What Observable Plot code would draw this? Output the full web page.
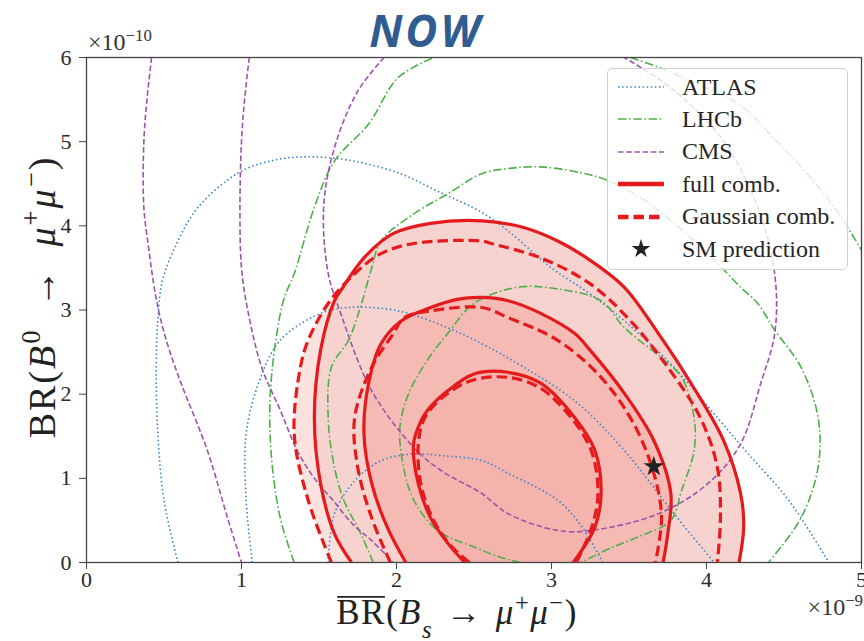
<!DOCTYPE html>
<html>
<head>
<meta charset="utf-8">
<script src="https://cdn.jsdelivr.net/npm/d3@7"></script>
<script src="https://cdn.jsdelivr.net/npm/@observablehq/plot@0.6"></script>
<style>
  body { margin: 0; background: #fff; }
  #chart { position: relative; width: 864px; height: 641px; overflow: hidden; }
  .legend {
    position: absolute; left: 607px; top: 68px; width: 241px; height: 202px;
    box-sizing: border-box; background: rgba(255,255,255,0.8);
    border: 1.3px solid #d2d2d2; border-radius: 5px;
    font-family: "Liberation Serif", serif; font-size: 24px; color: #262626;
  }
  .legend .row { position: absolute; left: 0; height: 32px; display: flex; align-items: center; }
  .legend .row svg { margin-left: 9px; width: 48px; height: 32px; flex: none; }
  .legend .row span { margin-left: 17px; white-space: nowrap; }
</style>
</head>
<body>
<div id="chart"></div>
<script>
// Axis ticks (x in units of 1e-9, y in units of 1e-10)
const xTicks = [0, 1, 2, 3, 4, 5];
const yTicks = [0, 1, 2, 3, 4, 5, 6];

// ATLAS likelihood contours [BR(Bs), BR(B0)]
const atlasOuter = [[0.59,0],[0.50,0.74],[0.46,1.54],[0.45,2.33],[0.46,2.87],[0.49,3.35],[0.59,3.82],[0.72,4.22],[0.98,4.63],[1.21,4.78],[1.43,4.82],[1.69,4.78],[2.01,4.63],[2.29,4.39],[2.55,4.16],[2.72,3.94],[3.00,3.50],[3.25,3.19],[3.49,2.84],[3.79,2.32],[4.07,1.72],[4.27,1.29],[4.53,0.74],[4.79,0]];
const atlasMiddle = [[1.07,0],[1.03,0.74],[1.03,1.53],[1.11,2.13],[1.25,2.64],[1.51,2.96],[1.69,3.03],[2.01,2.99],[2.33,2.79],[2.55,2.60],[2.72,2.43],[3.15,1.92],[3.47,1.33],[3.79,0.58],[4.05,0]];
const atlasInner = [[1.56,0],[1.60,0.58],[1.73,0.97],[1.90,1.21],[2.11,1.29],[2.29,1.27],[2.55,1.21],[2.72,1.06],[3.04,0.74],[3.19,0.44],[3.33,0]];

// LHCb likelihood contours
const lhcbOuterLeft = [[1.34,0],[1.25,0.53],[1.19,1.33],[1.19,2.13],[1.27,3.11],[1.34,3.43],[1.47,4.22],[1.60,4.77],[1.82,5.21],[2.01,5.76],[2.24,6.0]];
const lhcbOuterRight = [[3.51,6.0],[3.71,5.87],[3.96,5.67],[4.22,5.43],[4.45,5.01],[4.65,4.62],[4.84,4.18],[5.0,3.71]];
const lhcbMiddle = [[1.85,0],[1.77,0.34],[1.66,0.74],[1.60,1.13],[1.56,1.69],[1.58,2.32],[1.69,2.64],[1.77,3.05],[1.84,3.5],[1.90,3.82],[2.11,4.14],[2.33,4.38],[2.55,4.62],[2.72,4.68],[2.93,4.70],[3.19,4.63],[3.36,4.54],[3.58,4.33],[3.79,4.03],[4.01,3.67],[4.22,3.27],[4.33,3.08],[4.44,2.76],[4.61,2.32],[4.72,1.72],[4.72,1.13],[4.61,0.53],[4.40,0]];
const lhcbInner = [[2.80,0],[2.64,0.08],[2.48,0.20],[2.35,0.29],[2.24,0.42],[2.13,0.68],[2.07,0.94],[2.02,1.53],[2.05,1.86],[2.11,2.13],[2.22,2.46],[2.33,2.72],[2.50,3.08],[2.78,3.27],[3.04,3.25],[3.32,3.11],[3.47,2.79],[3.71,2.43],[3.84,2.20],[3.92,1.72],[3.92,1.33],[3.84,0.86],[3.77,0.50],[3.58,0.32],[3.38,0.17],[3.19,0]];

// CMS likelihood contours
const cmsOuter = [[0.42,6.0],[0.39,5.5],[0.37,5.0],[0.37,4.22],[0.40,3.75],[0.43,3.35],[0.47,2.95],[0.53,2.55],[0.61,2.13],[0.78,1.33],[0.91,0.53],[1.0,0]];
const cmsMiddle = [[1.05,6.0],[1.02,5.5],[1.0,5.0],[0.99,4.2],[1.0,3.5],[1.04,3.0],[1.13,2.32],[1.25,1.81],[1.36,1.33],[1.47,1.0],[1.59,0.74],[1.72,0.45],[1.84,0.26],[1.98,0]];
const cmsInner = [[1.92,6.0],[1.75,5.6],[1.60,4.93],[1.53,4.22],[1.56,3.43],[1.64,2.96],[1.84,2.04],[2.11,1.37],[2.29,1.09],[2.55,0.82],[2.72,0.58],[3.04,0.38],[3.25,0.38],[3.69,0.58],[4.01,0.94],[4.22,1.41],[4.35,2.13],[4.44,2.72],[4.44,3.43],[4.33,4.22],[4.11,5.01],[3.79,5.61],[3.47,6.0]];

// Full combination contours
const fullOuter = [[1.71,0],[1.60,0.34],[1.51,0.94],[1.47,1.72],[1.51,2.52],[1.60,3.11],[1.64,3.23],[1.79,3.62],[1.98,3.91],[2.22,4.03],[2.55,4.06],[2.82,3.98],[3.04,3.82],[3.25,3.59],[3.47,3.27],[3.69,2.72],[3.90,2.13],[4.11,1.45],[4.22,0.82],[4.24,0.42],[4.21,0]];
const fullMiddle = [[2.06,0],[1.94,0.42],[1.84,0.94],[1.79,1.53],[1.82,2.13],[1.90,2.60],[2.03,2.87],[2.22,3.03],[2.40,3.13],[2.55,3.15],[2.72,3.11],[2.93,2.96],[3.15,2.72],[3.25,2.52],[3.47,2.01],[3.66,1.45],[3.77,0.82],[3.75,0.34],[3.72,0]];
const fullInner = [[2.44,0],[2.33,0.23],[2.22,0.53],[2.14,0.94],[2.11,1.41],[2.16,1.69],[2.20,1.81],[2.33,2.04],[2.50,2.24],[2.72,2.26],[2.93,2.13],[3.15,1.72],[3.28,1.33],[3.32,0.82],[3.28,0.42],[3.14,0]];

// Gaussian combination contours
const gaussOuter = [[1.58,0],[1.43,0.74],[1.34,1.53],[1.38,2.32],[1.43,2.64],[1.56,3.08],[1.73,3.43],[1.90,3.67],[2.11,3.79],[2.55,3.82],[2.61,3.79],[2.93,3.62],[3.25,3.31],[3.51,2.87],[3.75,2.32],[3.96,1.72],[4.07,1.13],[4.09,0.53],[4.07,0]];
const gaussMiddle = [[1.96,0],[1.84,0.53],[1.75,1.13],[1.73,1.72],[1.84,2.32],[1.98,2.72],[2.05,2.91],[2.22,2.99],[2.55,3.03],[2.72,2.91],[3.04,2.64],[3.32,2.20],[3.53,1.65],[3.66,1.06],[3.71,0.53],[3.67,0]];
const gaussInner = [[2.47,0],[2.35,0.2],[2.24,0.5],[2.16,0.91],[2.14,1.39],[2.18,1.71],[2.29,1.95],[2.48,2.16],[2.72,2.20],[2.93,2.07],[3.14,1.69],[3.26,1.31],[3.30,0.82],[3.26,0.42],[3.16,0]];

// Standard Model prediction
const smPrediction = [[3.66, 1.14]];

const colors = { atlas: "#3a80c4", lhcb: "#4daf4a", cms: "#9b55ab", red: "#e41a1c" };
const dash = { atlas: "1.5 2.6", lhcb: "8.5 2.6 1.6 2.6", cms: "5.6 2.6", gauss: "10.5 5" };

const xy = { x: d => d[0], y: d => d[1], curve: "catmull-rom", clip: true };
const fillArea = (data, fill) => Plot.line(data, { ...xy, fill, stroke: "none" });
const contour = (data, stroke, strokeWidth, strokeDasharray) =>
  Plot.line(data, { ...xy, stroke, strokeWidth, strokeDasharray, strokeLinecap: "butt", strokeLinejoin: "round" });

const plot = Plot.plot({
  width: 864, height: 641,
  marginTop: 57, marginBottom: 79, marginLeft: 86, marginRight: 3,
  style: { fontFamily: "'Liberation Serif', serif", fontSize: "22px", color: "#2a2a2a", background: "#fff" },
  x: { domain: [0, 5] },
  y: { domain: [0, 6] },
  marks: [
    // shaded confidence regions
    fillArea(gaussOuter, "#fbe2de"),
    fillArea(fullOuter, "#f6d3ce"),
    fillArea(fullMiddle, "#f5bab4"),
    fillArea(fullInner, "#f4b3ad"),
    // individual experiments
    ...[atlasOuter, atlasMiddle, atlasInner].map(c => contour(c, colors.atlas, 1.6, dash.atlas)),
    ...[lhcbOuterLeft, lhcbOuterRight, lhcbMiddle, lhcbInner].map(c => contour(c, colors.lhcb, 1.6, dash.lhcb)),
    ...[cmsOuter, cmsMiddle, cmsInner].map(c => contour(c, colors.cms, 1.6, dash.cms)),
    // combinations
    ...[gaussOuter, gaussMiddle, gaussInner].map(c => contour(c, colors.red, 3.2, dash.gauss)),
    ...[fullOuter, fullMiddle, fullInner].map(c => contour(c, colors.red, 3.2)),
    Plot.dot(smPrediction, { x: d => d[0], y: d => d[1], symbol: "star", r: 6.5, fill: "#222", stroke: "none" }),
    Plot.axisX({ ticks: xTicks, tickFormat: "d", tickSize: 7, tickPadding: 2, fontSize: 22, label: null, stroke: "#444" }),
    Plot.axisY({ ticks: yTicks, tickFormat: "d", tickSize: 7, tickPadding: 8, fontSize: 22, label: null, stroke: "#444" }),
    Plot.frame({ stroke: "#444", strokeWidth: 1.3 })
  ]
});

document.getElementById("chart").append(plot);

// Title, exponent offsets and axis labels
const svg = d3.select(plot);
const serif = "'Liberation Serif', serif";

svg.append("text")
  .attr("x", 426).attr("y", 47).attr("text-anchor", "middle")
  .attr("font-family", "'Open Sans', sans-serif").attr("font-weight", 700).attr("font-style", "italic")
  .attr("font-size", 44).attr("fill", "#2f5d92").attr("letter-spacing", 3)
  .text("NOW");

function addTspans(text, parts) {
  for (const p of parts) {
    const t = text.append("tspan").text(p.t);
    if (p.i) t.attr("font-style", "italic");
    if (p.sup) t.attr("baseline-shift", "super").attr("font-size", "70%");
    if (p.sub) t.attr("baseline-shift", "sub").attr("font-size", "70%");
  }
  return text;
}

addTspans(svg.append("text").attr("x", 88).attr("y", 50).attr("text-anchor", "start")
  .attr("font-family", serif).attr("font-size", 24).attr("fill", "#333"),
  [{ t: "×10" }, { t: "−10", sup: true }]);

addTspans(svg.append("text").attr("x", 863).attr("y", 615).attr("text-anchor", "end")
  .attr("font-family", serif).attr("font-size", 24).attr("fill", "#333"),
  [{ t: "×10" }, { t: "−9", sup: true }]);

// x label, with a bar over "BR"
const xLabelSize = 35, xLabelBase = 624;
const xLabel = addTspans(svg.append("text").attr("x", 457).attr("y", xLabelBase).attr("text-anchor", "middle")
  .attr("font-family", serif).attr("font-size", xLabelSize).attr("letter-spacing", 1.5).attr("fill", "#222"),
  [{ t: "BR" }, { t: "(" }, { t: "B", i: true }, { t: "s", i: true, sub: true },
   { t: "\u2004→\u2004" }, { t: "μ", i: true }, { t: "+", sup: true }, { t: "μ", i: true }, { t: "−", sup: true }, { t: ")" }]);
{
  const node = xLabel.node();
  const x0 = node.getStartPositionOfChar(0).x;
  const x1 = node.getEndPositionOfChar(1).x;
  const yBar = xLabelBase - 0.66 * xLabelSize - 4;
  svg.append("line")
    .attr("x1", x0 + 1).attr("x2", x1 - 1)
    .attr("y1", yBar).attr("y2", yBar)
    .attr("stroke", "#222").attr("stroke-width", 1.6);
}

addTspans(svg.append("text").attr("transform", "translate(55,297) rotate(-90)").attr("text-anchor", "middle")
  .attr("font-family", serif).attr("font-size", 38).attr("letter-spacing", 2).attr("fill", "#222"),
  [{ t: "BR(" }, { t: "B", i: true }, { t: "0", sup: true },
   { t: "\u2002→\u2002" }, { t: "μ", i: true }, { t: "+", sup: true }, { t: "μ", i: true }, { t: "−", sup: true }, { t: ")" }]);

// Legend
const legendItems = [
  { label: "ATLAS", stroke: colors.atlas, width: 1.6, dash: dash.atlas },
  { label: "LHCb", stroke: colors.lhcb, width: 1.6, dash: dash.lhcb },
  { label: "CMS", stroke: colors.cms, width: 1.6, dash: dash.cms },
  { label: "full comb.", stroke: colors.red, width: 4.5, dash: null },
  { label: "Gaussian comb.", stroke: colors.red, width: 4.5, dash: "10.5 5" },
  { label: "SM prediction", star: true }
];
const legend = d3.select("#chart").append("div").attr("class", "legend");
legendItems.forEach((item, i) => {
  const row = legend.append("div").attr("class", "row").style("top", (2 + i * 32.4) + "px");
  const s = row.append("svg").attr("viewBox", "0 0 48 32");
  if (item.star) {
    s.append("path").attr("transform", "translate(24,16)")
      .attr("d", d3.symbol(d3.symbolStar, 110)()).attr("fill", "#222");
  } else {
    s.append("line").attr("x1", 1).attr("x2", 47).attr("y1", 16).attr("y2", 16)
      .attr("stroke", item.stroke).attr("stroke-width", item.width)
      .attr("stroke-dasharray", item.dash);
  }
  row.append("span").text(item.label);
});
</script>
</body>
</html>
